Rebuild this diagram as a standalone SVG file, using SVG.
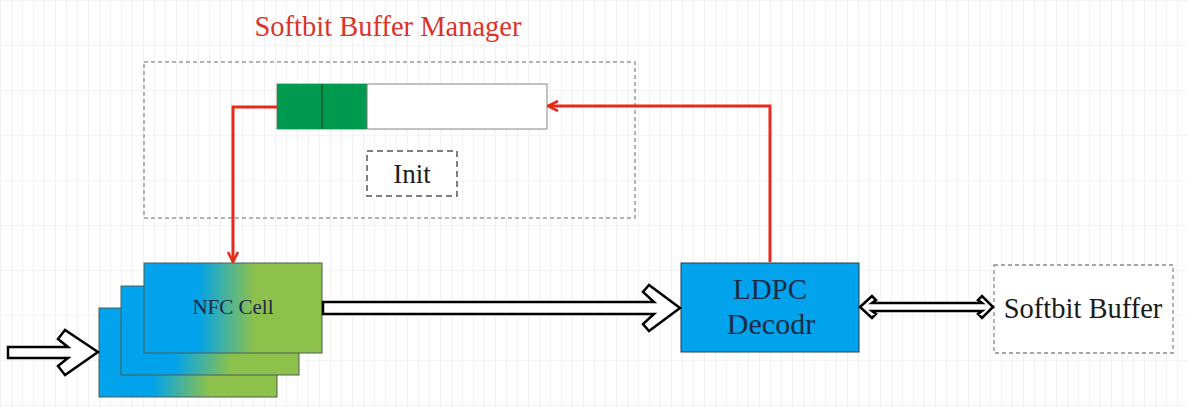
<svg xmlns="http://www.w3.org/2000/svg" width="1187" height="408" viewBox="0 0 1187 408">
<defs>
<pattern id="grid" width="11" height="45" patternUnits="userSpaceOnUse">
<path d="M0.5 0V45" stroke="#f1f1f1" stroke-width="1" fill="none"/>
<path d="M0 0.5H11" stroke="#f4f4f4" stroke-width="1" fill="none"/>
</pattern>
<linearGradient id="nfc" x1="0" y1="0" x2="1" y2="0">
<stop offset="0.3" stop-color="#00a3ec"/>
<stop offset="0.62" stop-color="#8dc14b"/>
</linearGradient>
<marker id="chev" viewBox="0 0 12 12" refX="11" refY="6" markerWidth="12" markerHeight="12" markerUnits="userSpaceOnUse" orient="auto">
<path d="M1 1L11 6L1 11" fill="none" stroke="#e8291c" stroke-width="2.6"/>
</marker>
</defs>
<style>
.serif{font-family:"Liberation Serif","Times New Roman",serif;}
.card{fill:url(#nfc);stroke:#4d5e55;stroke-width:1;}
.red{fill:none;stroke:#e8291c;stroke-width:3;}
.hollow{fill:#ffffff;stroke:#000000;stroke-width:2.5;stroke-linejoin:miter;}
</style>
<rect x="0" y="0" width="1187" height="408" fill="#ffffff"/>
<rect x="0" y="0" width="1187" height="408" fill="url(#grid)"/>

<text class="serif" x="388" y="36" font-size="28.5" fill="#d9342b" text-anchor="middle">Softbit Buffer Manager</text>

<g id="manager">
<rect x="144" y="62" width="491" height="156" fill="none" stroke="#9a9a9a" stroke-width="1.5" stroke-dasharray="4 3"/>
</g>

<g id="buffer">
<rect x="277" y="84" width="270" height="45" fill="#ffffff" stroke="#9a9a9a" stroke-width="1.2"/>
<rect x="277" y="84" width="90" height="45" fill="#009a4e"/>
<line x1="322" y1="84" x2="322" y2="129" stroke="#163d26" stroke-width="1"/>
<line x1="367" y1="84" x2="367" y2="129" stroke="#777" stroke-width="1"/>
</g>

<g id="init">
<rect x="367" y="151" width="90" height="45" fill="#ffffff" stroke="#555555" stroke-width="1.5" stroke-dasharray="6 4"/>
<text class="serif" x="412" y="183" font-size="27" fill="#1a1a1a" text-anchor="middle">Init</text>
</g>

<g id="nfc-cells">
<rect class="card" x="99" y="308" width="178" height="89"/>
<rect class="card" x="121" y="286" width="178" height="89"/>
<rect class="card" x="144" y="263" width="178" height="90"/>
<text class="serif" x="233" y="314" font-size="21" fill="#1b2b45" text-anchor="middle">NFC Cell</text>
</g>

<g id="ldpc">
<rect x="681" y="263" width="178" height="89" fill="#00a3ec" stroke="#2a3a4a" stroke-width="1"/>
<text class="serif" x="770" y="299" font-size="29" fill="#1b2b45" text-anchor="middle">LDPC</text>
<text class="serif" x="771" y="334" font-size="30" fill="#1b2b45" text-anchor="middle">Decodr</text>
</g>

<g id="softbit-buffer">
<rect x="994" y="265" width="179" height="88" fill="#ffffff" stroke="#8a8a8a" stroke-width="1.3" stroke-dasharray="4 3"/>
<text class="serif" x="1083" y="318" font-size="28.5" fill="#1a1a1a" text-anchor="middle">Softbit Buffer</text>
</g>

<g id="connectors">
<polyline class="red" points="277,107 233,107 233,262" marker-end="url(#chev)"/>
<polyline class="red" points="770,262 770,106 548,106" marker-end="url(#chev)"/>
<polygon class="hollow" points="8,347 68,347 58,339 65,330 98,352 65,375 58,366 68,358 8,358"/>
<polygon class="hollow" points="323,302 654,302 643,292 649,285 680,308 649,331 643,324 654,314 323,314"/>
<polygon class="hollow" points="860,307 872,296 876,300 872,303 982,303 978,300 982,296 993,307 982,318 978,314 982,311 872,311 876,314 872,318"/>
</g>
</svg>
